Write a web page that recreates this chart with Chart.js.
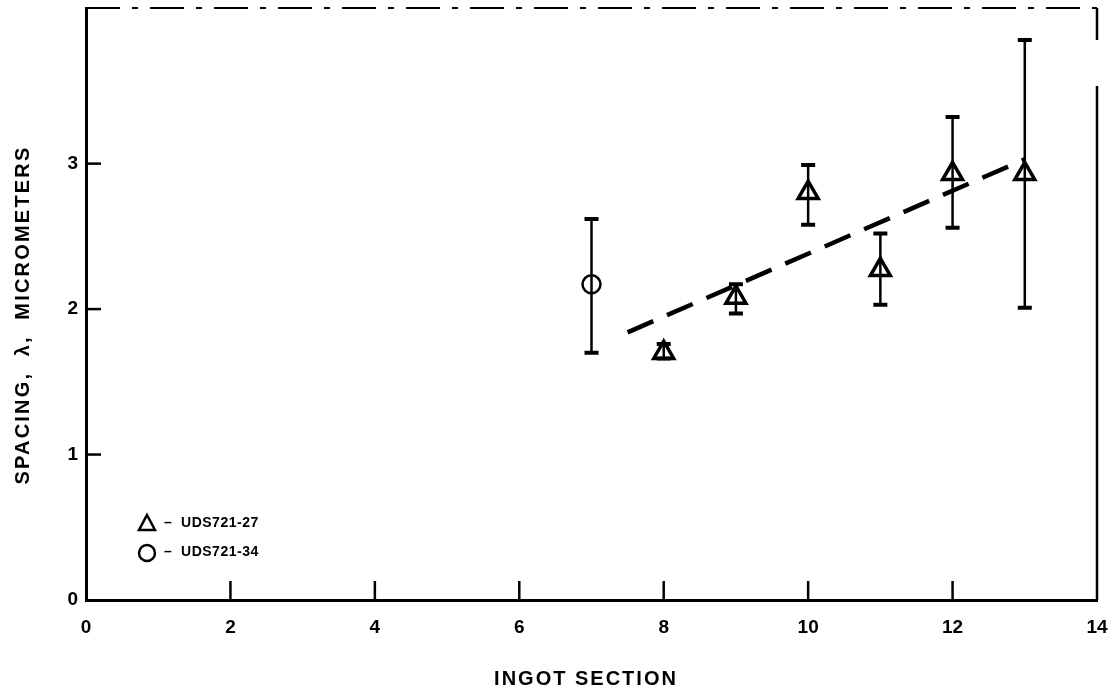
<!DOCTYPE html>
<html><head><meta charset="utf-8">
<script src="https://cdn.jsdelivr.net/npm/chart.js@4/dist/chart.umd.min.js"></script>
<style>html,body{margin:0;padding:0;background:#fff;}#wrap{width:1108px;height:699px;}</style>
</head><body><div id="wrap"><canvas id="c" width="1108" height="699"></canvas></div>
<script>
const xTicks = [0, 2, 4, 6, 8, 10, 12, 14];
const yTicks = [0, 1, 2, 3];
const uds27Sections = [8, 9, 10, 11, 12, 13];
const uds27Spacing = [1.70, 2.08, 2.80, 2.27, 2.93, 2.93];
const uds27Low = [1.66, 1.97, 2.58, 2.03, 2.56, 2.01];
const uds27High = [1.76, 2.17, 2.99, 2.52, 3.32, 3.85];
const uds34Sections = [7];
const uds34Spacing = [2.17];
const uds34Low = [1.70];
const uds34High = [2.62];
const trendSections = [7.5, 13];
const trendSpacing = [1.84, 3.03];
const legendLabels = ['UDS721-27', 'UDS721-34'];
const xTitle = 'INGOT SECTION';
const yTitle = 'SPACING,  \u03bb,  MICROMETERS';

const toPts = (xs, ys) => xs.map((x, i) => ({x: x, y: ys[i]}));
const FONT = '"Liberation Sans", Arial, sans-serif';

const errorBars = {
  id: 'errorBars',
  afterDatasetsDraw(chart) {
    const ctx = chart.ctx, xs = chart.scales.x, ys = chart.scales.y;
    const groups = [[uds27Sections, uds27Low, uds27High], [uds34Sections, uds34Low, uds34High]];
    ctx.save();
    ctx.strokeStyle = '#000';
    groups.forEach(g => {
      g[0].forEach((sx, i) => {
        const px = xs.getPixelForValue(sx);
        const lo = ys.getPixelForValue(g[1][i]);
        const hi = ys.getPixelForValue(g[2][i]);
        ctx.lineWidth = 2.5;
        ctx.beginPath(); ctx.moveTo(px, lo); ctx.lineTo(px, hi); ctx.stroke();
        ctx.lineWidth = 4;
        ctx.beginPath(); ctx.moveTo(px - 7, lo); ctx.lineTo(px + 7, lo);
        ctx.moveTo(px - 7, hi); ctx.lineTo(px + 7, hi); ctx.stroke();
      });
    });
    ctx.restore();
  }
};

const frame = {
  id: 'frame',
  afterDraw(chart) {
    const ctx = chart.ctx, a = chart.chartArea, xs = chart.scales.x, ys = chart.scales.y;
    ctx.save();
    ctx.strokeStyle = '#000';
    ctx.lineWidth = 2.5;
    xTicks.slice(1, -1).forEach(v => {
      const px = xs.getPixelForValue(v);
      ctx.beginPath(); ctx.moveTo(px, a.bottom); ctx.lineTo(px, a.bottom - 19); ctx.stroke();
    });
    yTicks.slice(1).forEach(v => {
      const py = ys.getPixelForValue(v);
      ctx.beginPath(); ctx.moveTo(a.left, py); ctx.lineTo(a.left + 15, py); ctx.stroke();
    });
    // right border
    ctx.lineWidth = 2.5;
    ctx.beginPath(); ctx.moveTo(a.right, a.top); ctx.lineTo(a.right, a.top + 32);
    ctx.moveTo(a.right, a.top + 78); ctx.lineTo(a.right, a.bottom); ctx.stroke();
    // top border (broken)
    ctx.lineWidth = 2;
    ctx.setLineDash([34, 12, 6, 12]);
    ctx.beginPath(); ctx.moveTo(a.left, a.top); ctx.lineTo(a.right, a.top); ctx.stroke();
    ctx.setLineDash([]);
    // legend
    const lx = a.left + 61, ly1 = a.bottom - 77, ly2 = a.bottom - 48;
    ctx.lineWidth = 2.5;
    ctx.beginPath();
    ctx.moveTo(lx, ly1 - 8); ctx.lineTo(lx + 8, ly1 + 7); ctx.lineTo(lx - 8, ly1 + 7); ctx.closePath(); ctx.stroke();
    ctx.beginPath(); ctx.arc(lx, ly2 + 1, 8, 0, Math.PI * 2); ctx.stroke();
    ctx.fillStyle = '#000';
    ctx.font = 'bold 14px ' + FONT;
    ctx.textBaseline = 'middle';
    ctx.textAlign = 'left';
    ctx.letterSpacing = '0.5px';
    ctx.fillText('\u2013  ' + legendLabels[0], lx + 17, ly1);
    ctx.fillText('\u2013  ' + legendLabels[1], lx + 17, ly2);
    // axis titles
    ctx.font = 'bold 20px ' + FONT;
    ctx.textAlign = 'center';
    ctx.letterSpacing = '2px';
    ctx.fillText(xTitle, 586, 679);
    ctx.translate(23, 315);
    ctx.rotate(-Math.PI / 2);
    ctx.letterSpacing = '2.2px';
    ctx.fillText(yTitle, 0, 0);
    ctx.restore();
  }
};

new Chart(document.getElementById('c'), {
  type: 'scatter',
  data: {
    datasets: [
      {
        type: 'line', data: toPts(trendSections, trendSpacing), borderColor: '#000',
        borderWidth: 4.5, borderDash: [28, 15], pointRadius: 0, fill: false, order: 3
      },
      {
        label: legendLabels[0], data: toPts(uds27Sections, uds27Spacing), pointStyle: 'triangle',
        pointRadius: 11.5, backgroundColor: '#fff', borderColor: '#000', borderWidth: 3.5, order: 1
      },
      {
        label: legendLabels[1], data: toPts(uds34Sections, uds34Spacing), pointStyle: 'circle',
        pointRadius: 9, backgroundColor: '#fff', borderColor: '#000', borderWidth: 2.5, order: 1
      }
    ]
  },
  options: {
    responsive: false, animation: false, events: [],
    layout: {autoPadding: false, padding: {top: 8, right: 11, left: 0, bottom: 0}},
    plugins: {legend: {display: false}, tooltip: {enabled: false}},
    scales: {
      x: {
        type: 'linear', min: 0, max: 14,
        afterBuildTicks: s => { s.ticks = xTicks.map(v => ({value: v})); },
        ticks: {color: '#000', font: {family: FONT, size: 19, weight: 'bold'}, padding: 8, maxRotation: 0},
        grid: {display: false},
        border: {display: true, color: '#000', width: 3},
        title: {display: false},
        afterFit: s => { s.height = 99; s.paddingLeft = 0; s.paddingRight = 0; }
      },
      y: {
        type: 'linear', min: 0, max: 4.07,
        afterBuildTicks: s => { s.ticks = yTicks.map(v => ({value: v})); },
        ticks: {color: '#000', font: {family: FONT, size: 19, weight: 'bold'}, padding: 0},
        grid: {display: false},
        border: {display: true, color: '#000', width: 3},
        title: {display: false},
        afterFit: s => { s.width = 86; s.paddingTop = 0; s.paddingBottom = 0; }
      }
    }
  },
  plugins: [errorBars, frame]
});
</script>
</body></html>
